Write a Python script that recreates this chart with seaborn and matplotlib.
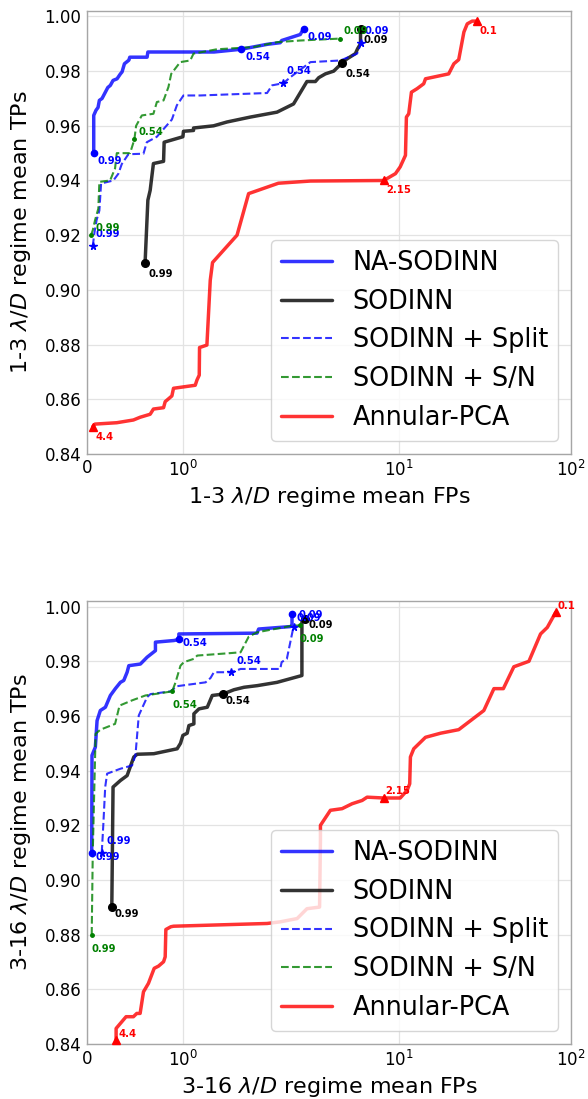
import matplotlib
matplotlib.use("Agg")
import matplotlib.pyplot as plt
import seaborn as sns

# ---------------- data: mean false positives (FP) vs mean true positives (TP) ----------------
series_names = ["NA-SODINN", "SODINN", "SODINN + Split", "SODINN + S/N", "Annular-PCA"]
nn_thresholds = ["0.99", "0.54", "0.09"]
pca_thresholds = ["4.4", "2.15", "0.1"]
xtick_values = [0, 1, 10, 100]
xtick_labels = ["0", r"$10^{0}$", r"$10^{1}$", r"$10^{2}$"]
ytick_values = [0.84, 0.86, 0.88, 0.90, 0.92, 0.94, 0.96, 0.98, 1.00]

# 1-3 lambda/D regime
r13_na_fp = [0.07, 0.07, 0.094, 0.115, 0.129, 0.157, 0.217, 0.244, 0.272, 0.314, 0.349, 0.366,
             0.391, 0.437, 0.447, 0.628, 0.636, 1.327, 1.61, 1.882, 2.05, 2.09, 2.68, 2.80]
r13_na_tp = [0.950, 0.9638, 0.9657, 0.9667, 0.9693, 0.970, 0.974, 0.9748, 0.9766, 0.9772, 0.979,
             0.9797, 0.9827, 0.984, 0.9851, 0.9851, 0.987, 0.987, 0.988, 0.9898, 0.9904, 0.9912,
             0.9934, 0.9955]
r13_na_thr_fp = [0.07, 1.61, 2.80]
r13_na_thr_tp = [0.950, 0.988, 0.9955]

r13_sod_fp = [0.607, 0.636, 0.66, 0.677, 0.694, 0.80, 0.806, 0.904, 1.002, 1.008, 1.113, 1.113,
              1.323, 1.463, 1.707, 1.986, 2.45, 2.93, 3.28, 3.43, 3.75, 4.19, 4.69, 5.01, 5.60,
              5.77, 6.0, 6.0]
r13_sod_tp = [0.910, 0.9328, 0.9364, 0.9413, 0.9462, 0.947, 0.954, 0.955, 0.956, 0.958, 0.9583,
              0.9592, 0.960, 0.9614, 0.9632, 0.965, 0.968, 0.9762, 0.9762, 0.9776, 0.979, 0.980,
              0.983, 0.9845, 0.9864, 0.9882, 0.990, 0.9955]
r13_sod_thr_fp = [0.607, 4.69, 6.0]
r13_sod_thr_tp = [0.910, 0.983, 0.9955]

r13_split_fp = [0.06, 0.076, 0.10, 0.129, 0.147, 0.275, 0.328, 0.363, 0.432, 0.59, 0.625, 0.73,
                0.887, 0.939, 1.008, 1.183, 1.882, 1.934, 2.14, 2.35, 3.07, 4.58, 5.73, 6.04]
r13_split_tp = [0.916, 0.9206, 0.9255, 0.929, 0.9389, 0.940, 0.9425, 0.946, 0.9496, 0.9498, 0.954,
                0.956, 0.9623, 0.9675, 0.9711, 0.9711, 0.972, 0.9748, 0.9756, 0.9778, 0.9833,
                0.9839, 0.9864, 0.9902]
r13_split_thr_fp = [0.06, 2.14, 6.04]
r13_split_thr_tp = [0.916, 0.9756, 0.9902]

r13_snr_fp = [0.042, 0.06, 0.084, 0.118, 0.129, 0.241, 0.293, 0.311, 0.45, 0.495, 0.513, 0.573,
              0.694, 0.73, 0.80, 0.851, 0.88, 0.974, 1.079, 1.113, 1.358, 1.741, 1.986, 2.68, 4.54]
r13_snr_tp = [0.920, 0.9218, 0.9255, 0.9297, 0.9395, 0.940, 0.9444, 0.950, 0.950, 0.955, 0.960,
              0.9638, 0.9644, 0.9687, 0.9693, 0.9742, 0.979, 0.9833, 0.9839, 0.9864, 0.988,
              0.9888, 0.9906, 0.9912, 0.9919]
r13_snr_thr_fp = [0.042, 0.495, 4.54]
r13_snr_thr_tp = [0.920, 0.955, 0.9919]

r13_pca_fp = [0.06, 0.084, 0.311, 0.485, 0.555, 0.66, 0.694, 0.80, 0.817, 0.887, 0.904, 1.131,
              1.149, 1.173, 1.176, 1.253, 1.288, 1.312, 1.568, 1.689, 2.0, 3.07, 8.18, 9.57, 10.2,
              10.94, 11.08, 11.43, 11.85, 12.79, 13.97, 14.3, 19.5, 20.9, 22.3, 23.9, 25.0, 26.7,
              28.3]
r13_pca_tp = [0.850, 0.8509, 0.8514, 0.8524, 0.8534, 0.8545, 0.8564, 0.8569, 0.8591, 0.8612,
              0.864, 0.8651, 0.867, 0.8688, 0.8789, 0.8798, 0.9035, 0.910, 0.920, 0.9352, 0.939,
              0.9398, 0.940, 0.9425, 0.945, 0.9492, 0.9632, 0.9644, 0.9723, 0.9736, 0.9754,
              0.9772, 0.979, 0.9827, 0.9842, 0.9943, 0.9973, 0.9983, 0.9983]
r13_pca_thr_fp = [0.06, 8.18, 28.3]
r13_pca_thr_tp = [0.850, 0.940, 0.9983]

# 3-16 lambda/D regime
r316_na_fp = [0.049, 0.052, 0.087, 0.105, 0.139, 0.192, 0.244, 0.296, 0.349, 0.384, 0.419, 0.437,
              0.558, 0.628, 0.715, 0.715, 0.908, 0.96, 0.96, 1.777, 1.794, 2.35, 2.40, 2.40]
r316_na_tp = [0.910, 0.9456, 0.9486, 0.9583, 0.962, 0.9632, 0.9675, 0.970, 0.9723, 0.973, 0.976,
              0.9784, 0.979, 0.9815, 0.9839, 0.987, 0.9876, 0.988, 0.990, 0.9903, 0.9918, 0.9927,
              0.9931, 0.9973]
r316_na_thr_fp = [0.049, 0.96, 2.40]
r316_na_thr_tp = [0.910, 0.988, 0.9973]

r316_sod_fp = [0.259, 0.272, 0.349, 0.419, 0.489, 0.524, 0.698, 0.942, 0.977, 1.002, 1.047, 1.065,
               1.117, 1.117, 1.17, 1.257, 1.309, 1.42, 1.536, 1.641, 1.78, 1.986, 2.74, 2.74, 2.87]
r316_sod_tp = [0.890, 0.934, 0.9364, 0.9382, 0.945, 0.946, 0.9462, 0.948, 0.950, 0.9529, 0.9537,
               0.9565, 0.9571, 0.9608, 0.9626, 0.9632, 0.9675, 0.968, 0.9696, 0.9705, 0.9711,
               0.9723, 0.9748, 0.9945, 0.9955]
r316_sod_thr_fp = [0.259, 1.42, 2.87]
r316_sod_thr_tp = [0.890, 0.968, 0.9955]

r316_split_fp = [0.154, 0.17, 0.19, 0.21, 0.349, 0.471, 0.506, 0.541, 0.628, 0.663, 0.872, 0.942,
                 1.239, 1.291, 1.326, 1.508, 1.605, 2.05, 2.09, 2.24, 2.45]
r316_split_tp = [0.910, 0.920, 0.934, 0.9389, 0.9407, 0.9419, 0.9456, 0.9602, 0.9669, 0.968,
                 0.969, 0.9709, 0.9723, 0.9739, 0.976, 0.976, 0.9772, 0.9772, 0.9797, 0.9809,
                 0.9927]
r316_split_thr_fp = [0.154, 1.508, 2.45]
r316_split_thr_tp = [0.910, 0.976, 0.9927]

r316_snr_fp = [0.049, 0.06, 0.09, 0.14, 0.293, 0.34, 0.47, 0.61, 0.89, 0.925, 0.977, 1.012, 1.117,
               1.152, 1.5, 1.605, 1.69, 1.777, 2.45, 2.66]
r316_snr_tp = [0.880, 0.91, 0.9535, 0.955, 0.9571, 0.9638, 0.9657, 0.9675, 0.969, 0.9723, 0.9784,
               0.9797, 0.9809, 0.9821, 0.983, 0.9833, 0.989, 0.9906, 0.9931, 0.9931]
r316_snr_thr_fp = [0.049, 0.89, 2.66]
r316_snr_thr_tp = [0.880, 0.969, 0.9931]

r316_pca_fp = [0.304, 0.304, 0.408, 0.485, 0.52, 0.555, 0.59, 0.642, 0.702, 0.747, 0.80, 0.817,
               0.824, 0.876, 0.904, 1.882, 2.05, 2.57, 2.93, 3.47, 3.51, 3.51, 4.01, 4.69, 5.36,
               6.13, 6.55, 8.18, 10.2, 11.19, 11.58, 11.69, 12.22, 14.3, 17.5, 22.3, 31.2, 35.7,
               40.5, 46.6, 57.0, 66.6, 72.9, 81.5]
r316_pca_tp = [0.8414, 0.8457, 0.850, 0.850, 0.8512, 0.8512, 0.8591, 0.8622, 0.8677, 0.8685,
               0.8701, 0.8719, 0.8819, 0.8829, 0.8831, 0.8841, 0.8847, 0.8859, 0.8895, 0.8901,
               0.9145, 0.92, 0.9255, 0.9261, 0.9279, 0.9291, 0.9303, 0.930, 0.930, 0.9328, 0.9352,
               0.945, 0.948, 0.9522, 0.9537, 0.955, 0.962, 0.970, 0.970, 0.978, 0.980, 0.990,
               0.9924, 0.9979]
r316_pca_thr_fp = [0.304, 8.18, 81.5]
r316_pca_thr_tp = [0.8414, 0.930, 0.9979]

# ---------------- styling ----------------
sns.set_theme(style="whitegrid")
plt.rcParams["font.family"] = ["DejaVu Sans"]
plt.rcParams.update({
    "axes.edgecolor": "#a6a6a6",
    "axes.linewidth": 1.0,
    "grid.color": "#e3e3e3",
    "grid.linewidth": 0.9,
    "xtick.color": "black",
    "ytick.color": "black",
    "axes.labelcolor": "black",
    "text.color": "black",
})

line_styles = {
    "NA-SODINN":      dict(color="blue",  ls="-",  lw=2.5, marker="o", ms=4.5),
    "SODINN":         dict(color="black", ls="-",  lw=2.5, marker="o", ms=5.5),
    "SODINN + Split": dict(color="blue",  ls="--", lw=1.5, marker="*", ms=5.5),
    "SODINN + S/N":   dict(color="green", ls="--", lw=1.5, marker="o", ms=2.5),
    "Annular-PCA":    dict(color="red",   ls="-",  lw=2.5, marker="^", ms=5.5),
}

panels = [
    dict(
        regime="1-3",
        rect=[0.148, 0.587, 0.823, 0.403],
        curves=[(r13_na_fp, r13_na_tp, r13_na_thr_fp, r13_na_thr_tp),
                (r13_sod_fp, r13_sod_tp, r13_sod_thr_fp, r13_sod_thr_tp),
                (r13_split_fp, r13_split_tp, r13_split_thr_fp, r13_split_thr_tp),
                (r13_snr_fp, r13_snr_tp, r13_snr_thr_fp, r13_snr_thr_tp),
                (r13_pca_fp, r13_pca_tp, r13_pca_thr_fp, r13_pca_thr_tp)],
        # label offsets in pixels (right, down)
        offsets=[(4, 8), (3, 11), (3, -12), (4, -7.5), (3, 10)],
    ),
    dict(
        regime="3-16",
        rect=[0.148, 0.050, 0.823, 0.403],
        curves=[(r316_na_fp, r316_na_tp, r316_na_thr_fp, r316_na_thr_tp),
                (r316_sod_fp, r316_sod_tp, r316_sod_thr_fp, r316_sod_thr_tp),
                (r316_split_fp, r316_split_tp, r316_split_thr_fp, r316_split_thr_tp),
                (r316_snr_fp, r316_snr_tp, r316_snr_thr_fp, r316_snr_thr_tp),
                (r316_pca_fp, r316_pca_tp, r316_pca_thr_fp, r316_pca_thr_tp)],
        offsets=[(4, 4), (3, 6.5), (5, -11.5), (0, 14), (2, -6.5)],
    ),
]

fig = plt.figure(figsize=(5.88, 10.99), dpi=100)

for panel in panels:
    ax = fig.add_axes(panel["rect"])
    ax.set_xscale("symlog", linthresh=2, linscale=1)

    for name, (fp, tp, thr_fp, thr_tp), (dx, dy) in zip(series_names, panel["curves"], panel["offsets"]):
        st = line_styles[name]
        sns.lineplot(x=fp, y=tp, ax=ax, sort=False, estimator=None,
                     color=st["color"], linestyle=st["ls"], linewidth=st["lw"],
                     alpha=0.8, label=name)
        ax.plot(thr_fp, thr_tp, linestyle="none", marker=st["marker"], markersize=st["ms"],
                color=st["color"], clip_on=False, zorder=4)
        texts = pca_thresholds if name == "Annular-PCA" else nn_thresholds
        for xv, yv, txt in zip(thr_fp, thr_tp, texts):
            ax.annotate(txt, (xv, yv), xytext=(dx, -dy), textcoords="offset pixels",
                        ha="left", va="center", fontsize=7.2, fontweight="bold",
                        color=st["color"], annotation_clip=False, zorder=5)

    ax.set_xlim(0, 100)
    ax.set_ylim(0.84, 1.002)
    ax.set_xticks(xtick_values)
    ax.set_xticklabels(xtick_labels)
    ax.xaxis.set_minor_locator(matplotlib.ticker.NullLocator())
    ax.set_yticks(ytick_values)
    ax.set_yticklabels([f"{v:.2f}" for v in ytick_values])
    ax.tick_params(axis="both", labelsize=12, length=0, pad=4)
    ax.grid(True, which="major")

    regime = panel["regime"]
    ax.set_xlabel(regime + r" $\lambda/D$ regime mean FPs", fontsize=16, labelpad=4)
    ax.set_ylabel(regime + r" $\lambda/D$ regime mean TPs", fontsize=16, labelpad=8)

    ax.legend(loc="lower right", fontsize=18.4, labelspacing=0.5, frameon=True)

fig.savefig("out.png", dpi=100)
